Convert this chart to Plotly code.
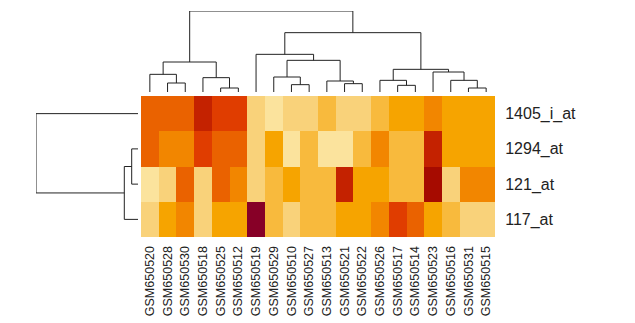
import plotly.graph_objects as go

# ---- data ----
samples = ["GSM650520", "GSM650528", "GSM650530", "GSM650518", "GSM650525",
           "GSM650512", "GSM650519", "GSM650529", "GSM650510", "GSM650527",
           "GSM650513", "GSM650521", "GSM650522", "GSM650526", "GSM650517",
           "GSM650514", "GSM650523", "GSM650516", "GSM650531", "GSM650515"]
probes = ["1405_i_at", "1294_at", "121_at", "117_at"]

# binned expression level (1 = darkest, 10 = lightest)
row_1405_i_at = [5, 5, 5, 3, 4, 4, 9, 10, 9, 9, 8, 9, 9, 8, 7, 7, 6, 7, 7, 7]
row_1294_at   = [5, 6, 6, 4, 5, 5, 9, 7, 10, 8, 10, 10, 8, 6, 8, 8, 3, 7, 7, 7]
row_121_at    = [10, 9, 5, 9, 5, 6, 9, 8, 7, 8, 8, 3, 7, 7, 8, 8, 2, 9, 6, 6]
row_117_at    = [9, 7, 6, 9, 7, 7, 1, 8, 9, 8, 8, 7, 7, 6, 4, 5, 7, 8, 9, 9]

level_colors = ["#870027", "#A60B00", "#C42200", "#E03D00", "#EA6200",
                "#F28600", "#F6A400", "#F8BA3D", "#F9D27A", "#FBE39D"]

# column clustering: (left id, right id, merge height); ids 0..19 leaves, 20+ clusters
col_merges = [(1, 2, 27), (0, 20, 53), (4, 5, 12), (3, 22, 43), (21, 23, 90),
              (8, 9, 22), (7, 25, 45), (11, 12, 25), (10, 27, 33), (26, 28, 95),
              (6, 29, 113), (14, 15, 20), (13, 31, 35), (18, 19, 12), (17, 33, 35),
              (16, 34, 60), (32, 35, 68), (30, 36, 178), (24, 37, 243)]
# row clustering: ids 0..3 leaves, 4+ clusters
row_merges = [(1, 2, 6.3), (4, 3, 13.7), (0, 5, 102)]

z = [row_1405_i_at, row_1294_at, row_121_at, row_117_at]


def dendro_lines(n_leaves, merges):
    pos = {i: float(i) for i in range(n_leaves)}
    hgt = {i: 0.0 for i in range(n_leaves)}
    P, H = [], []
    for k, (a, b, h) in enumerate(merges):
        cid = n_leaves + k
        P += [pos[a], pos[a], pos[b], pos[b], None]
        H += [hgt[a], h, h, hgt[b], None]
        pos[cid] = (pos[a] + pos[b]) / 2
        hgt[cid] = h
    return P, H


nlev = len(level_colors)
cscale = []
for i, c in enumerate(level_colors):
    cscale.append([i / nlev, c])
    cscale.append([(i + 1) / nlev, c])

W, Hpx = 635, 323
hx0, hx1 = 141 / W, 495 / W
hy0, hy1 = (Hpx - 237) / Hpx, (Hpx - 96) / Hpx

fig = go.Figure()
fig.add_trace(go.Heatmap(z=z, x=list(range(len(samples))), y=list(range(len(probes))),
                         colorscale=cscale, zmin=0.5, zmax=nlev + 0.5,
                         showscale=False, hoverinfo="skip", xgap=0, ygap=0))

cp, ch = dendro_lines(len(samples), col_merges)
fig.add_trace(go.Scatter(x=cp, y=ch, mode="lines", xaxis="x2", yaxis="y2",
                         line=dict(color="#222222", width=1), hoverinfo="skip",
                         showlegend=False))
rp, rh = dendro_lines(len(probes), row_merges)
fig.add_trace(go.Scatter(x=rh, y=rp, mode="lines", xaxis="x3", yaxis="y3",
                         line=dict(color="#222222", width=1), hoverinfo="skip",
                         showlegend=False))

fig.update_layout(
    width=W, height=Hpx, autosize=False,
    margin=dict(l=0, r=0, t=0, b=0),
    paper_bgcolor="white", plot_bgcolor="white",
    font=dict(family="Liberation Sans, Arial, sans-serif", color="#222222"),
    showlegend=False,
    xaxis=dict(domain=[hx0, hx1], range=[-0.5, len(samples) - 0.5],
               tickvals=list(range(len(samples))), ticktext=samples,
               tickangle=-90, tickfont=dict(size=12.5), ticks="outside",
               ticklen=3, tickcolor="rgba(0,0,0,0)", showgrid=False,
               zeroline=False, showline=False, automargin=False, anchor="y"),
    yaxis=dict(domain=[hy0, hy1], range=[len(probes) - 0.5, -0.5],
               tickvals=list(range(len(probes))), ticktext=probes, side="right",
               tickfont=dict(size=16), ticks="outside", ticklen=6,
               tickcolor="rgba(0,0,0,0)", showgrid=False, zeroline=False,
               showline=False, automargin=False, anchor="x"),
    xaxis2=dict(domain=[hx0, hx1], range=[-0.5, len(samples) - 0.5], visible=False,
                anchor="y2"),
    yaxis2=dict(domain=[(Hpx - 92) / Hpx, (Hpx - 11) / Hpx], range=[0, 243],
                visible=False, anchor="x2"),
    xaxis3=dict(domain=[36 / W, 138 / W], range=[102, 0], visible=False, anchor="y3"),
    yaxis3=dict(domain=[hy0, hy1], range=[len(probes) - 0.5, -0.5], visible=False,
                anchor="x3"),
)

fig.write_html("out.html")
